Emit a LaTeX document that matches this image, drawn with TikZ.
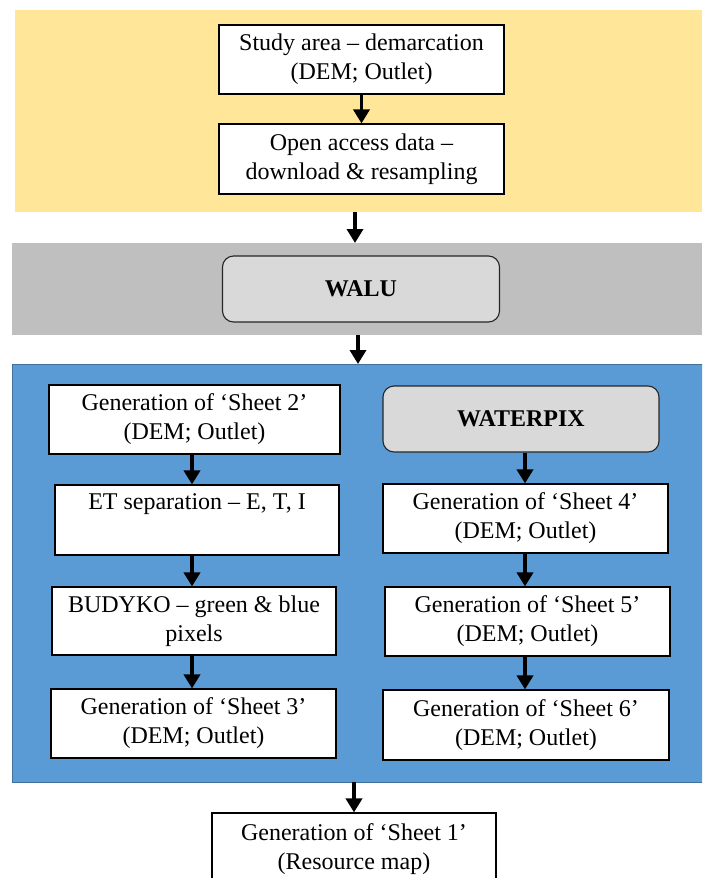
\documentclass[tikz,border=0pt]{standalone}
\usepackage{fontspec}
\setmainfont{Liberation Serif}
\usetikzlibrary{arrows.meta}
\definecolor{yband}{HTML}{FFE699}
\definecolor{gband}{HTML}{BFBFBF}
\definecolor{bband}{HTML}{5B9BD5}
\definecolor{bedge}{HTML}{41719C}
\definecolor{rbox}{HTML}{D9D9D9}
\tikzset{
  box/.style={draw=black, fill=white, line width=1.1pt, align=center, inner sep=0pt,
    font=\fontsize{24}{29}\selectfont},
  rbox/.style={draw=black!85, fill=rbox, line width=1.1pt, rounded corners=11pt, align=center,
    inner sep=0pt, font=\fontsize{24}{28}\selectfont\bfseries},
  flow/.style={line width=3.5pt, -{Triangle[length=14pt,width=16pt]}, shorten >=0pt}
}
\begin{document}
\begin{tikzpicture}[x=1pt,y=-1pt]
\useasboundingbox (0,0) rectangle (702,878);
\clip (0,0) rectangle (702,878);
% bands
\fill[yband] (15,10) rectangle (702,212);
\fill[gband] (12,243) rectangle (702,335);
\filldraw[fill=bband, draw=bedge, line width=1pt] (12,364) rectangle (703,782);
% top
\node[box, minimum width=285pt, minimum height=69pt] (b1) at (361.5,59.5) {Study area – demarcation\\(DEM; Outlet)};
\node[box, minimum width=285pt, minimum height=70pt] (b2) at (361.5,159) {Open access data –\\download \& resampling};
\node[rbox, minimum width=277pt, minimum height=66pt] (walu) at (361,289) {WALU};
% left column
\node[box, minimum width=291pt, minimum height=69pt] (s2) at (194.5,419.5) {Generation of ‘Sheet 2’\\(DEM; Outlet)};
\node[box, minimum width=284pt, minimum height=70pt] (et) at (197,520) {ET separation – E, T, I\\\strut};
\node[box, minimum width=284pt, minimum height=68pt] (bud) at (194,621) {BUDYKO – green \& blue\\pixels};
\node[box, minimum width=285pt, minimum height=69pt] (s3) at (193.5,723.5) {Generation of ‘Sheet 3’\\(DEM; Outlet)};
% right column
\node[rbox, minimum width=276pt, minimum height=66pt] (wpx) at (521,419) {WATERPIX};
\node[box, minimum width=285pt, minimum height=69pt] (s4) at (525.5,518.5) {Generation of ‘Sheet 4’\\(DEM; Outlet)};
\node[box, minimum width=285pt, minimum height=69pt] (s5) at (527.5,621.5) {Generation of ‘Sheet 5’\\(DEM; Outlet)};
\node[box, minimum width=286pt, minimum height=70pt] (s6) at (526,725) {Generation of ‘Sheet 6’\\(DEM; Outlet)};
% bottom
\node[box, minimum width=284pt, minimum height=72pt] (s1) at (354,849) {Generation of ‘Sheet 1’\\(Resource map)};
% band junctions
\coordinate (ybot) at (355,212);
\coordinate (gtop) at (355,243);
\coordinate (gbot) at (358,335);
\coordinate (btop) at (358,364);
\coordinate (bbot) at (354,782);
% arrows
\draw[flow] (b1) -- (b2);
\draw[flow] (ybot) -- (gtop);
\draw[flow] (gbot) -- (btop);
\draw[flow] (s2.south -| 192,0) -- (et.north -| 192,0);
\draw[flow] (et.south -| 192,0) -- (bud.north -| 192,0);
\draw[flow] (bud.south -| 192,0) -- (s3.north -| 192,0);
\draw[flow] (wpx.south -| 525,0) -- (s4.north -| 525,0);
\draw[flow] (s4.south -| 525,0) -- (s5.north -| 525,0);
\draw[flow] (s5.south -| 525,0) -- (s6.north -| 525,0);
\draw[flow] (bbot) -- (s1);
\end{tikzpicture}
\end{document}
